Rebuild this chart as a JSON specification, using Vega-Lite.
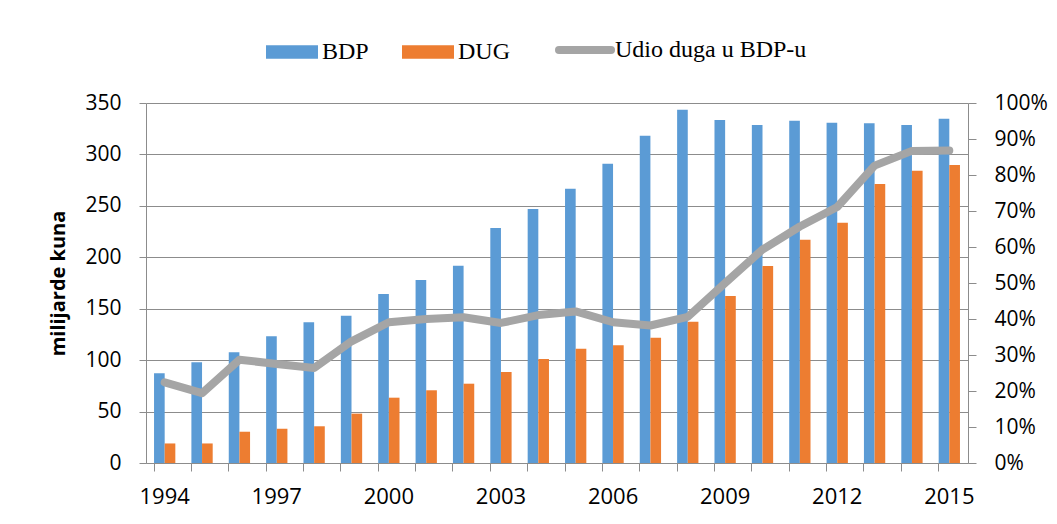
{
  "$schema": "https://vega.github.io/schema/vega-lite/v6.json",
  "width": 822,
  "height": 360,
  "autosize": "none",
  "padding": {"left": 146, "top": 103, "right": 89, "bottom": 61},
  "background": "white",
  "config": {
    "view": {"stroke": null},
    "font": "Open Sans"
  },
  "datasets": {
    "bars": [
      {"year": 1994, "serija": "BDP", "value": 87.2}, {"year": 1994, "serija": "DUG", "value": 19.0},
      {"year": 1995, "serija": "BDP", "value": 97.9}, {"year": 1995, "serija": "DUG", "value": 19.0},
      {"year": 1996, "serija": "BDP", "value": 107.6}, {"year": 1996, "serija": "DUG", "value": 30.4},
      {"year": 1997, "serija": "BDP", "value": 123.2}, {"year": 1997, "serija": "DUG", "value": 33.3},
      {"year": 1998, "serija": "BDP", "value": 136.8}, {"year": 1998, "serija": "DUG", "value": 35.7},
      {"year": 1999, "serija": "BDP", "value": 143.2}, {"year": 1999, "serija": "DUG", "value": 48.0},
      {"year": 2000, "serija": "BDP", "value": 164.3}, {"year": 2000, "serija": "DUG", "value": 63.5},
      {"year": 2001, "serija": "BDP", "value": 177.9}, {"year": 2001, "serija": "DUG", "value": 70.7},
      {"year": 2002, "serija": "BDP", "value": 191.8}, {"year": 2002, "serija": "DUG", "value": 77.1},
      {"year": 2003, "serija": "BDP", "value": 228.5}, {"year": 2003, "serija": "DUG", "value": 88.5},
      {"year": 2004, "serija": "BDP", "value": 246.9}, {"year": 2004, "serija": "DUG", "value": 101.1},
      {"year": 2005, "serija": "BDP", "value": 266.7}, {"year": 2005, "serija": "DUG", "value": 111.1},
      {"year": 2006, "serija": "BDP", "value": 291.0}, {"year": 2006, "serija": "DUG", "value": 114.4},
      {"year": 2007, "serija": "BDP", "value": 318.2}, {"year": 2007, "serija": "DUG", "value": 121.8},
      {"year": 2008, "serija": "BDP", "value": 343.5}, {"year": 2008, "serija": "DUG", "value": 137.4},
      {"year": 2009, "serija": "BDP", "value": 333.5}, {"year": 2009, "serija": "DUG", "value": 162.4},
      {"year": 2010, "serija": "BDP", "value": 328.6}, {"year": 2010, "serija": "DUG", "value": 191.5},
      {"year": 2011, "serija": "BDP", "value": 332.8}, {"year": 2011, "serija": "DUG", "value": 217.1},
      {"year": 2012, "serija": "BDP", "value": 330.8}, {"year": 2012, "serija": "DUG", "value": 233.6},
      {"year": 2013, "serija": "BDP", "value": 330.2}, {"year": 2013, "serija": "DUG", "value": 271.2},
      {"year": 2014, "serija": "BDP", "value": 328.6}, {"year": 2014, "serija": "DUG", "value": 284.2},
      {"year": 2015, "serija": "BDP", "value": 334.8}, {"year": 2015, "serija": "DUG", "value": 289.7}
    ],
    "udio": [
      {"year": 1994, "udio": 0.224}, {"year": 1995, "udio": 0.194}, {"year": 1996, "udio": 0.287},
      {"year": 1997, "udio": 0.275}, {"year": 1998, "udio": 0.264}, {"year": 1999, "udio": 0.338},
      {"year": 2000, "udio": 0.391}, {"year": 2001, "udio": 0.400}, {"year": 2002, "udio": 0.405},
      {"year": 2003, "udio": 0.389}, {"year": 2004, "udio": 0.411}, {"year": 2005, "udio": 0.421},
      {"year": 2006, "udio": 0.391}, {"year": 2007, "udio": 0.382}, {"year": 2008, "udio": 0.406},
      {"year": 2009, "udio": 0.500}, {"year": 2010, "udio": 0.593}, {"year": 2011, "udio": 0.657},
      {"year": 2012, "udio": 0.711}, {"year": 2013, "udio": 0.826}, {"year": 2014, "udio": 0.867},
      {"year": 2015, "udio": 0.868}
    ]
  },
  "layer": [
    {
      "data": {"name": "bars"},
      "mark": {"type": "bar"},
      "encoding": {
        "x": {
          "field": "year", "type": "ordinal",
          "scale": {"paddingInner": 0.43, "paddingOuter": 0.215},
          "axis": {
            "title": null, "bandPosition": 0, "labelAngle": 0,
            "labelExpr": "(datum.value - 1994) % 3 === 0 ? datum.label : ''",
            "labelOverlap": false, "labelFont": "Open Sans", "labelFontSize": 22, "labelColor": "black",
            "tickSize": 8, "tickColor": "#8C8C8C", "domainColor": "#8C8C8C", "labelPadding": 15
          }
        },
        "xOffset": {"field": "serija", "type": "nominal", "sort": ["BDP", "DUG"], "scale": {"paddingInner": 0, "paddingOuter": 0}},
        "y": {
          "field": "value", "type": "quantitative",
          "scale": {"domain": [0, 350], "nice": false},
          "axis": {
            "title": "milijarde kuna", "titleFont": "Open Sans", "titleFontWeight": "bold", "titleFontSize": 20,
            "titleColor": "black", "titlePadding": 16,
            "values": [0, 50, 100, 150, 200, 250, 300, 350],
            "labelFont": "Open Sans", "labelFontSize": 21, "labelColor": "black", "labelPadding": 18,
            "tickSize": 7, "tickColor": "#8C8C8C", "domainColor": "#8C8C8C",
            "grid": true, "gridColor": "#8C8C8C", "gridWidth": 1
          }
        },
        "color": {
          "field": "serija", "type": "nominal",
          "scale": {"domain": ["BDP", "DUG", "Udio duga u BDP-u"], "range": ["#5B9BD5", "#ED7D31", "#A5A5A5"]},
          "legend": {
            "title": null, "orient": "none", "direction": "horizontal", "legendX": 134, "legendY": -65,
            "labelFont": "Liberation Serif", "labelFontSize": 24, "labelColor": "black", "labelOffset": 18,
            "labelLimit": 400, "columnPadding": 33, "symbolSize": 2704,
            "encode": {
              "symbols": {
                "update": {
                  "shape": {"signal": "datum.value === 'Udio duga u BDP-u' ? 'M-1,0H1' : 'M-1,-0.26H1V0.26H-1Z'"},
                  "strokeWidth": {"signal": "datum.value === 'Udio duga u BDP-u' ? 8 : 0"},
                  "stroke": {"signal": "datum.value === 'Udio duga u BDP-u' ? '#A5A5A5' : 'transparent'"},
                  "fill": {"signal": "datum.value === 'BDP' ? '#5B9BD5' : (datum.value === 'DUG' ? '#ED7D31' : 'transparent')"},
                  "strokeCap": {"value": "round"},
                  "opacity": {"value": 1}
                }
              }
            }
          }
        }
      }
    },
    {
      "data": {"name": "udio"},
      "mark": {"type": "line", "strokeWidth": 8, "strokeCap": "round", "strokeJoin": "round"},
      "encoding": {
        "x": {"field": "year", "type": "ordinal"},
        "y": {
          "field": "udio", "type": "quantitative",
          "scale": {"domain": [0, 1], "nice": false},
          "axis": {
            "orient": "right", "title": null, "format": ".0%",
            "values": [0, 0.1, 0.2, 0.3, 0.4, 0.5, 0.6, 0.7, 0.8, 0.9, 1],
            "labelFont": "Open Sans", "labelFontSize": 21, "labelColor": "black", "labelPadding": 18,
            "tickSize": 8, "tickColor": "#8C8C8C", "domainColor": "#8C8C8C", "grid": false
          }
        },
        "color": {"datum": "Udio duga u BDP-u"}
      }
    }
  ],
  "resolve": {"scale": {"y": "independent"}}
}
